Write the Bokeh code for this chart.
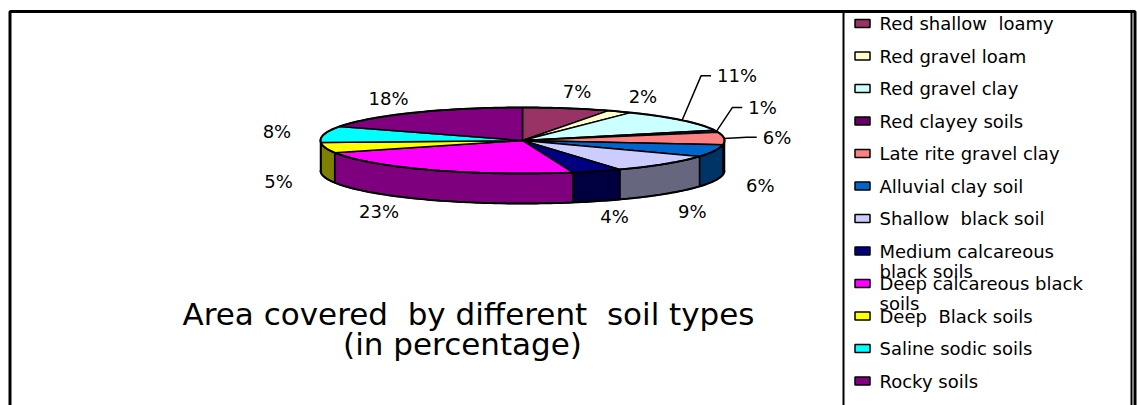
import numpy as np
from bokeh.plotting import figure
from bokeh.models import Range1d
from bokeh.embed import file_html
from bokeh.resources import INLINE
from bokeh.core.properties import value

# ---- data -------------------------------------------------------------
soil_types = [
    "Red shallow  loamy",
    "Red gravel loam",
    "Red gravel clay",
    "Red clayey soils",
    "Late rite gravel clay",
    "Alluvial clay soil",
    "Shallow  black soil",
    "Medium calcareous\nblack soils",
    "Deep calcareous black\nsoils",
    "Deep  Black soils",
    "Saline sodic soils",
    "Rocky soils",
]
area_pct = [7, 2, 11, 1, 6, 6, 9, 4, 23, 5, 8, 18]
slice_colors = [
    "#993366", "#FFFFCC", "#CCFFFF", "#660066", "#FF8080", "#0066CC",
    "#CCCCFF", "#000080", "#FF00FF", "#FFFF00", "#00FFFF", "#800080",
]
title_lines = ["Area covered  by different  soil types", "(in percentage)"]

# ---- layout (pixel space, y grows downward) ----------------------------
W, H = 1137, 405
CX, CY = 522.0, 140.0        # centre of the pie's top face
RX, RY = 202.0, 33.0         # ellipse radii of the top face
DEPTH = 30.0                 # thickness of the pie
LRX, LRY = 250.0, 50.0       # ellipse on which the value labels sit
FONT = value("DejaVu Sans")


def keep_spaces(s):
    # SVG collapses runs of blanks; keep the doubled ones visible
    return s.replace("  ", " \u00a0")


def shade(hex_color, k=0.5):
    h = hex_color.lstrip("#")
    r, g, b = (int(h[i:i + 2], 16) for i in (0, 2, 4))
    return "#%02x%02x%02x" % (int(r * k), int(g * k), int(b * k))


def rim(theta_deg, dy=0.0):
    t = np.radians(theta_deg)
    return CX + RX * np.sin(t), CY - RY * np.cos(t) + dy


p = figure(
    width=W, height=H,
    x_range=Range1d(0, W), y_range=Range1d(H, 0),
    output_backend="svg", toolbar_location=None, min_border=0,
)
p.axis.visible = False
p.grid.visible = False
p.outline_line_color = None
p.background_fill_color = "white"
p.border_fill_color = "white"

# chart frame and legend box
p.quad(left=[9.5], right=[1134.5], top=[11], bottom=[430],
       fill_color=None, line_color="black", line_width=3)
p.quad(left=[843], right=[1131], top=[11], bottom=[430],
       fill_color=None, line_color="black", line_width=2)

# ---- pie geometry -------------------------------------------------------
total = float(sum(area_pct))
bounds = np.concatenate([[0.0], np.cumsum(area_pct) / total * 360.0])

side_xs, side_ys, side_cols = [], [], []
top_xs, top_ys = [], []
for i in range(len(area_pct)):
    a0, a1 = bounds[i], bounds[i + 1]
    n = max(3, int((a1 - a0) / 1.5) + 2)
    ts = np.linspace(a0, a1, n)
    x, y = rim(ts)
    top_xs.append([CX] + list(x))
    top_ys.append([CY] + list(y))
    # visible wall: the part of the slice on the front half (90..270 deg)
    s0, s1 = max(a0, 90.0), min(a1, 270.0)
    if s1 > s0:
        ts = np.linspace(s0, s1, max(3, int((s1 - s0) / 1.5) + 2))
        xt, yt = rim(ts)
        xb, yb = rim(ts[::-1], DEPTH)
        side_xs.append(list(xt) + list(xb))
        side_ys.append(list(yt) + list(yb))
        side_cols.append(shade(slice_colors[i]))

p.patches(side_xs, side_ys, fill_color=side_cols, line_color="black",
          line_width=1.5, line_join="round")
p.patches(top_xs, top_ys, fill_color=slice_colors, line_color="black",
          line_width=1.5, line_join="round")

# silhouette outline
ts = np.linspace(0, 360, 361)
ox, oy = rim(ts)
p.line(list(ox), list(oy), line_color="black", line_width=2)
ts = np.linspace(90, 270, 181)
bx, by = rim(ts, DEPTH)
p.line(list(bx), list(by), line_color="black", line_width=2)

# ---- value labels -------------------------------------------------------
LABEL_PX = 18
# labels moved off their default spot; the first three get a leader line
label_shift = {2: (17, -34), 3: (0, -19), 4: (5, 0), 6: (-7, 6), 8: (-30, -4)}
with_leader = {2, 3, 4}
char_w = {"%": 0.95}

lab_x, lab_y, lab_t = [], [], []
lead_xs, lead_ys = [], []
for i, v in enumerate(area_pct):
    m = 0.5 * (bounds[i] + bounds[i + 1])
    t = np.radians(m)
    lx = CX + LRX * np.sin(t)
    ly = CY - LRY * np.cos(t) + (DEPTH if np.cos(t) < 0 else 0.0)
    txt = "%d%%" % v
    if i in label_shift:
        dx, dy = label_shift[i]
        lx, ly = lx + dx, ly + dy
    if i in with_leader:
        tw = sum(char_w.get(c, 0.636) for c in txt) * LABEL_PX
        left = lx - tw / 2
        ex, ey = rim(m)
        lead_xs.append([float(ex), left - 16, left - 6])
        lead_ys.append([float(ey), ly, ly])
    lab_x.append(lx)
    lab_y.append(ly)
    lab_t.append(txt)

p.multi_line(lead_xs, lead_ys, line_color="black", line_width=1.5)
p.text(x=lab_x, y=lab_y, text=lab_t, text_font=FONT,
       text_font_size="%dpx" % LABEL_PX, text_align="center",
       text_baseline="middle", text_color="black")

# ---- legend -------------------------------------------------------------
ROW0, ROW_STEP, LINE_STEP = 23.0, 32.5, 20.0
leg_rows = [ROW0 + k * ROW_STEP for k in range(len(soil_types))]
p.rect(x=[862] * len(soil_types), y=leg_rows, width=15, height=8,
       fill_color=slice_colors, line_color="black", line_width=1.5)
lt_x, lt_y, lt_t = [], [], []
for k, name in enumerate(soil_types):
    for j, part in enumerate(name.split("\n")):
        lt_x.append(879)
        lt_y.append(leg_rows[k] + j * LINE_STEP)
        lt_t.append(keep_spaces(part))
p.text(x=lt_x, y=lt_y, text=lt_t, text_font=FONT, text_font_size="18px",
       text_align="left", text_baseline="middle", text_color="black")

# ---- title --------------------------------------------------------------
p.text(x=[468, 462], y=[313, 343], text=[keep_spaces(s) for s in title_lines],
       text_font=FONT, text_font_size="31px", text_align="center",
       text_baseline="middle", text_color="black")

open("out.html", "w").write(file_html(p, INLINE))
